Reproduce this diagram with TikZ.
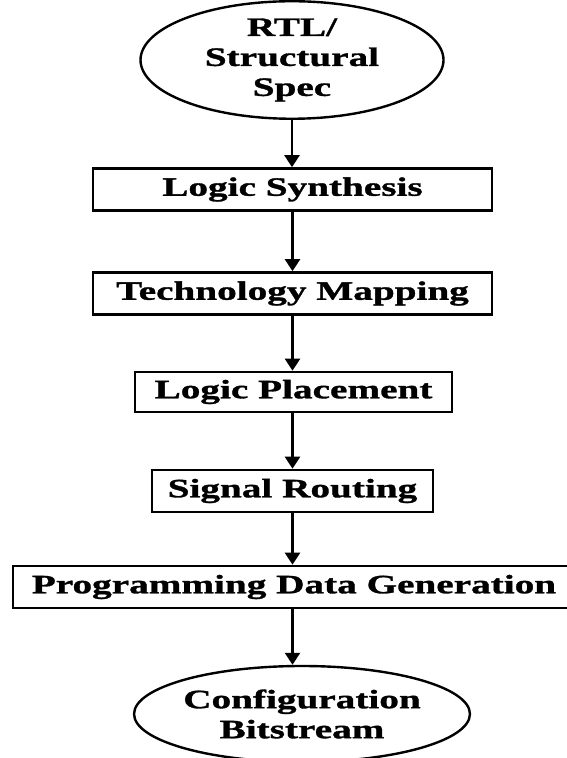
\documentclass[tikz,border=0pt]{standalone}
\usepackage{fontspec}
\setmainfont{Liberation Serif}[FakeStretch=1.48, BoldFeatures={FakeBold=1.2}]
\usepackage{tikz}
\usetikzlibrary{arrows.meta,shapes.geometric}

\begin{document}
\begin{tikzpicture}[x=1pt, y=1pt,
  every node/.style={font=\fontsize{26.5}{30}\selectfont\bfseries},
  stage/.style={draw, line width=2.6pt, minimum height=42pt, inner sep=0pt},
  terminal/.style={draw, ellipse, line width=2.4pt, inner sep=0pt, align=center},
  flow/.style={-{Triangle[length=12pt,width=15pt]}, line width=2.4pt}]
  \useasboundingbox (0,0) rectangle (566,758);
  % start and end of the flow
  \node[terminal, minimum width=303pt, minimum height=104pt] (spec) at (292,698) {RTL/\\Structural\\Spec};
  \node[terminal, minimum width=315pt, minimum height=96pt] (bits) at (302,44) {Configuration\\Bitstream};
  % tool steps
  \node[stage, minimum width=399pt] (synth) at (292.5,568.5) {Logic Synthesis};
  \node[stage, minimum width=399pt] (techmap) at (292.5,464.5) {Technology Mapping};
  \node[stage, minimum width=317pt, minimum height=40pt] (place) at (293.5,366) {Logic Placement};
  \node[stage, minimum width=281pt] (route) at (292.5,267) {Signal Routing};
  \node[stage, minimum width=562pt] (progdata) at (294,171) {Programming Data Generation};
  % arrows
  \draw[flow] (spec.south) -- (spec.south |- synth.north);
  \draw[flow] (synth) -- (techmap);
  \draw[flow] (techmap) -- (techmap |- place.north);
  \draw[flow] (place.south -| techmap) -- (techmap |- route.north);
  \draw[flow] (route.south -| techmap) -- (techmap |- progdata.north);
  \draw[flow] (progdata.south -| techmap) -- (techmap |- bits.north);
\end{tikzpicture}
\end{document}
